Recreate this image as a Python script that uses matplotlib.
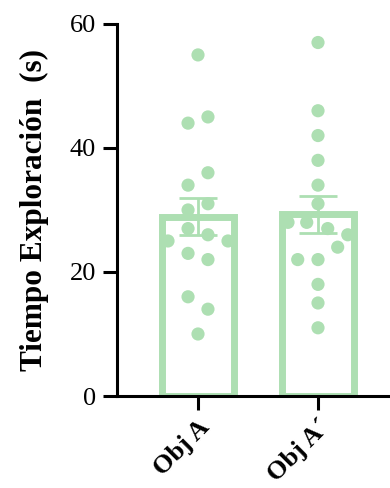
import numpy as np
import matplotlib.pyplot as plt

# Exploration time per animal (s) for each object
groups = ["Obj A", "Obj A\u00b4"]
obj_a = [55, 44, 45, 36, 34, 31, 30, 27, 25, 26, 25, 23, 22, 16, 14, 10]
obj_a2 = [57, 46, 42, 38, 34, 31, 28, 28, 27, 26, 24, 22, 22, 18, 15, 11]

# horizontal spread of the dots within each bar (category units)
spread_a = [0, -0.083, 0.083, 0.083, -0.083, 0.083, -0.083, -0.083,
            -0.25, 0.083, 0.25, -0.083, 0.083, -0.083, 0.083, 0]
spread_a2 = [0, 0, 0, 0, 0, 0, -0.25, -0.094, 0.081, 0.248,
             0.164, -0.169, 0, 0, 0, 0]

green = "#addfb2"

plt.rcParams["font.family"] = ["Liberation Serif", "DejaVu Serif"]

fig = plt.figure(figsize=(3.9, 4.88), dpi=100)
ax = fig.add_axes([0.3, 0.1885, 0.7, 0.7625])

data = [obj_a, obj_a2]
spreads = [spread_a, spread_a2]
x = np.arange(len(groups))
means = [np.mean(d) for d in data]
sems = [np.std(d, ddof=1) / np.sqrt(len(d)) for d in data]

ax.bar(x, means, width=0.6, color="white", edgecolor=green, linewidth=5, zorder=1)
ax.errorbar(x, means, yerr=sems, fmt="none", ecolor=green, elinewidth=2,
            capsize=14, capthick=2, zorder=2)
for i, (d, s) in enumerate(zip(data, spreads)):
    ax.scatter(i + np.array(s), d, s=90, color=green, edgecolors="none", zorder=3)

ax.set_xlim(-0.675, 1.6)
ax.set_ylim(0, 60)
ax.set_yticks([0, 20, 40, 60])
ax.set_xticks(x)
ax.set_xticklabels(groups, rotation=45, ha="right", rotation_mode="anchor",
                   fontsize=20, fontweight="bold")
ax.set_ylabel("Tiempo Exploración  (s)", fontsize=22.5, fontweight="bold", labelpad=15)

for side in ["top", "right"]:
    ax.spines[side].set_visible(False)
for side in ["left", "bottom"]:
    ax.spines[side].set_linewidth(2.2)
ax.tick_params(axis="both", width=2.2, length=10, labelsize=19, color="black")
ax.tick_params(axis="y", pad=5)
ax.tick_params(axis="x", pad=4)

fig.savefig("out.png", dpi=100)
